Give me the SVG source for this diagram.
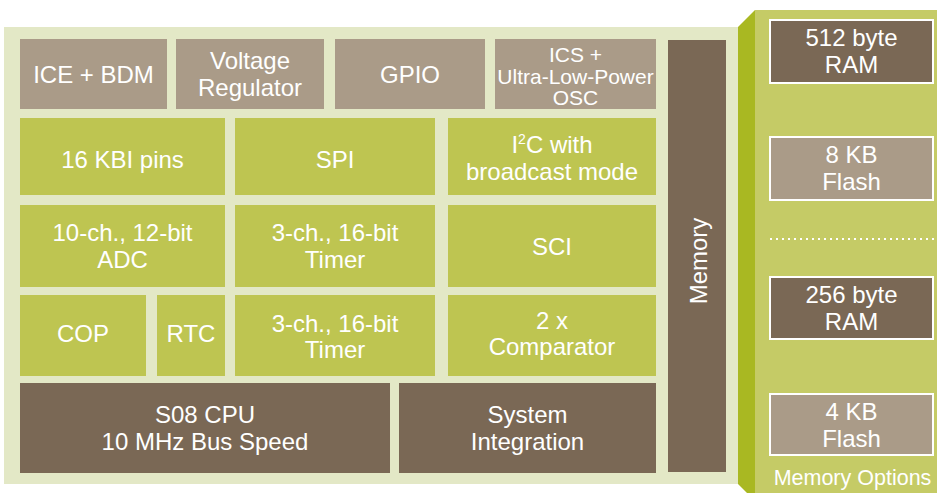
<svg xmlns="http://www.w3.org/2000/svg" width="937" height="493" viewBox="0 0 937 493">
<style>
.bg{fill:#e3e8c6}
.g{fill:#bec551}
.t{fill:#aa9b88}
.b{fill:#7a6855}
.opt{stroke:#ffffff;stroke-width:2}
text{font-family:"Liberation Sans",Arial,sans-serif;fill:#ffffff;text-anchor:middle;font-size:24px}
.s{font-size:21px}
</style>
<rect x="0" y="0" width="937" height="493" fill="#ffffff"/>
<g id="chip">
<rect class="bg" x="4" y="27" width="734" height="457"/>
<polygon points="738,27 755,10 755,501 738,484" fill="#a9b822"/>
<rect x="755" y="10" width="182" height="483" fill="#c5cb66"/>
</g>
<g id="ice"><rect class="t" x="20" y="39" width="147" height="70"/><text x="93.5" y="83">ICE + BDM</text></g>
<g id="vreg"><rect class="t" x="176" y="39" width="148" height="70"/><text x="250" y="69">Voltage</text><text x="250" y="96">Regulator</text></g>
<g id="gpio"><rect class="t" x="335" y="39" width="150" height="70"/><text x="410" y="83">GPIO</text></g>
<g id="ics"><rect class="t" x="495" y="39" width="161" height="70"/><text class="s" x="575.5" y="62">ICS +</text><text class="s" x="575.5" y="84">Ultra-Low-Power</text><text class="s" x="575.5" y="105">OSC</text></g>
<g id="memory"><rect class="b" x="668" y="40" width="58" height="432"/><text transform="translate(707,261) rotate(-90)">Memory</text></g>
<g id="kbi"><rect class="g" x="20" y="118" width="205" height="77"/><text x="122.5" y="168">16 KBI pins</text></g>
<g id="spi"><rect class="g" x="235" y="118" width="200" height="77"/><text x="335" y="168">SPI</text></g>
<g id="i2c"><rect class="g" x="448" y="118" width="208" height="77"/><text x="552" y="153">I<tspan font-size="14" dy="-9">2</tspan><tspan dy="9">C with</tspan></text><text x="552" y="180">broadcast mode</text></g>
<g id="adc"><rect class="g" x="20" y="205" width="205" height="82"/><text x="122.5" y="241">10-ch., 12-bit</text><text x="122.5" y="268">ADC</text></g>
<g id="timer1"><rect class="g" x="235" y="205" width="200" height="82"/><text x="335" y="241">3-ch., 16-bit</text><text x="335" y="268">Timer</text></g>
<g id="sci"><rect class="g" x="448" y="205" width="208" height="82"/><text x="552" y="255">SCI</text></g>
<g id="cop"><rect class="g" x="20" y="295" width="126" height="81"/><text x="83" y="342">COP</text></g>
<g id="rtc"><rect class="g" x="157" y="295" width="68" height="81"/><text x="191" y="342">RTC</text></g>
<g id="timer2"><rect class="g" x="235" y="295" width="200" height="81"/><text x="335" y="332">3-ch., 16-bit</text><text x="335" y="358">Timer</text></g>
<g id="comp"><rect class="g" x="448" y="295" width="208" height="81"/><text x="552" y="329">2 x</text><text x="552" y="355">Comparator</text></g>
<g id="cpu"><rect class="b" x="20" y="383" width="370" height="90"/><text x="205" y="423">S08 CPU</text><text x="205" y="450">10 MHz Bus Speed</text></g>
<g id="sysint"><rect class="b" x="399" y="383" width="257" height="90"/><text x="527.5" y="423">System</text><text x="527.5" y="450">Integration</text></g>
<g id="ram512"><rect class="b opt" x="770" y="20" width="163" height="63"/><text x="851.5" y="46">512 byte</text><text x="851.5" y="73">RAM</text></g>
<g id="flash8"><rect class="t opt" x="770" y="137" width="163" height="63"/><text x="851.5" y="163">8 KB</text><text x="851.5" y="190">Flash</text></g>
<g id="dots"><line x1="770" y1="239" x2="934" y2="239" stroke="#ffffff" stroke-width="2" stroke-dasharray="2 4"/></g>
<g id="ram256"><rect class="b opt" x="770" y="277" width="163" height="62"/><text x="851.5" y="303">256 byte</text><text x="851.5" y="330">RAM</text></g>
<g id="flash4"><rect class="t opt" x="770" y="394" width="163" height="61"/><text x="851.5" y="420">4 KB</text><text x="851.5" y="447">Flash</text></g>
<g id="options"><text x="852.5" y="485" style="font-size:21.5px">Memory Options</text></g>
<g id="connectors"></g>
</svg>
